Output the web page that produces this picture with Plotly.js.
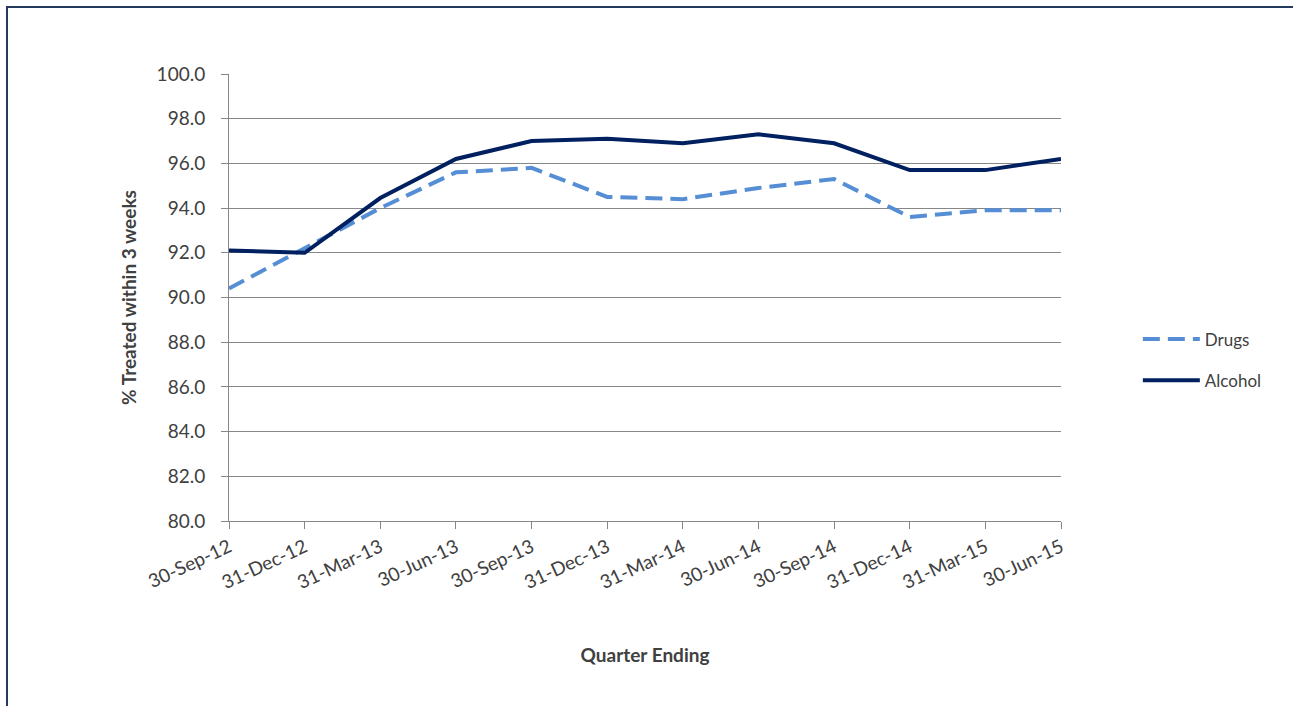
<!DOCTYPE html>
<html>
<head>
<meta charset="utf-8">
<script src="https://cdn.plot.ly/plotly-3.0.1.min.js"></script>
<style>
  html, body { margin: 0; padding: 0; background: #fff; overflow: hidden; }
  #frame { position: absolute; left: 6px; top: 6px; width: 1400px; height: 800px;
           border-left: 2px solid #243a5e; border-top: 2px solid #243a5e; box-sizing: border-box; pointer-events: none; }
  #chart { position: absolute; left: 0; top: 0; width: 1293px; height: 706px; }
</style>
</head>
<body>
<div id="chart"></div>
<div id="frame"></div>
<script>
const quarters = ["30-Sep-12","31-Dec-12","31-Mar-13","30-Jun-13","30-Sep-13","31-Dec-13",
                  "31-Mar-14","30-Jun-14","30-Sep-14","31-Dec-14","31-Mar-15","30-Jun-15"];
const drugs   = [90.4, 92.2, 94.0, 95.6, 95.8, 94.5, 94.4, 94.9, 95.3, 93.6, 93.9, 93.9];
const alcohol = [92.1, 92.0, 94.45, 96.2, 97.0, 97.1, 96.9, 97.3, 96.9, 95.7, 95.7, 96.2];
const yTicks  = [80, 82, 84, 86, 88, 90, 92, 94, 96, 98, 100];

const font = "Lato, 'Open Sans', 'Liberation Sans', sans-serif";

const traces = [
  { x: quarters, y: drugs, name: "Drugs", type: "scatter", mode: "lines", legendgroup: "d",
    line: { color: "#558ed5", width: 4, dash: "17px,8px" } },
  { x: quarters, y: alcohol, name: "Alcohol", type: "scatter", mode: "lines", legendgroup: "a",
    line: { color: "#002060", width: 4 } }
];

const layout = {
  width: 1293, height: 706,
  margin: { l: 229, r: 232, t: 74, b: 185 },
  paper_bgcolor: "#fff", plot_bgcolor: "#fff",
  font: { family: font, color: "#404040", size: 18 },
  showlegend: true,
  legend: { xref: "container", yref: "container", x: 0.88, y: 0.49, xanchor: "left", yanchor: "middle",
            traceorder: "grouped", tracegroupgap: 16, itemwidth: 57,
            font: { size: 17, color: "#404040" } },
  xaxis: {
    type: "category", range: [0, 11], tickangle: -25,
    showgrid: false, showline: true, linecolor: "#878787", linewidth: 1,
    ticks: "outside", ticklen: 7, tickcolor: "#878787",
    tickfont: { size: 19, color: "#404040" },
    title: { text: "<b>Quarter Ending</b>", font: { size: 19, color: "#404040" }, standoff: 56 },
    zeroline: false
  },
  yaxis: {
    range: [80, 100], tickvals: yTicks, ticktext: yTicks.map(v => v.toFixed(1)),
    showgrid: true, gridcolor: "#878787", gridwidth: 1,
    showline: true, linecolor: "#878787", linewidth: 1,
    ticks: "outside", ticklen: 7, tickcolor: "#878787", ticklabelstandoff: 12,
    tickfont: { size: 19, color: "#404040" },
    title: { text: "<b>% Treated within 3 weeks</b>", font: { size: 19, color: "#404040" }, standoff: 14 },
    zeroline: false
  }
};

Plotly.newPlot("chart", traces, layout, { displayModeBar: false, staticPlot: true });
</script>
</body>
</html>
